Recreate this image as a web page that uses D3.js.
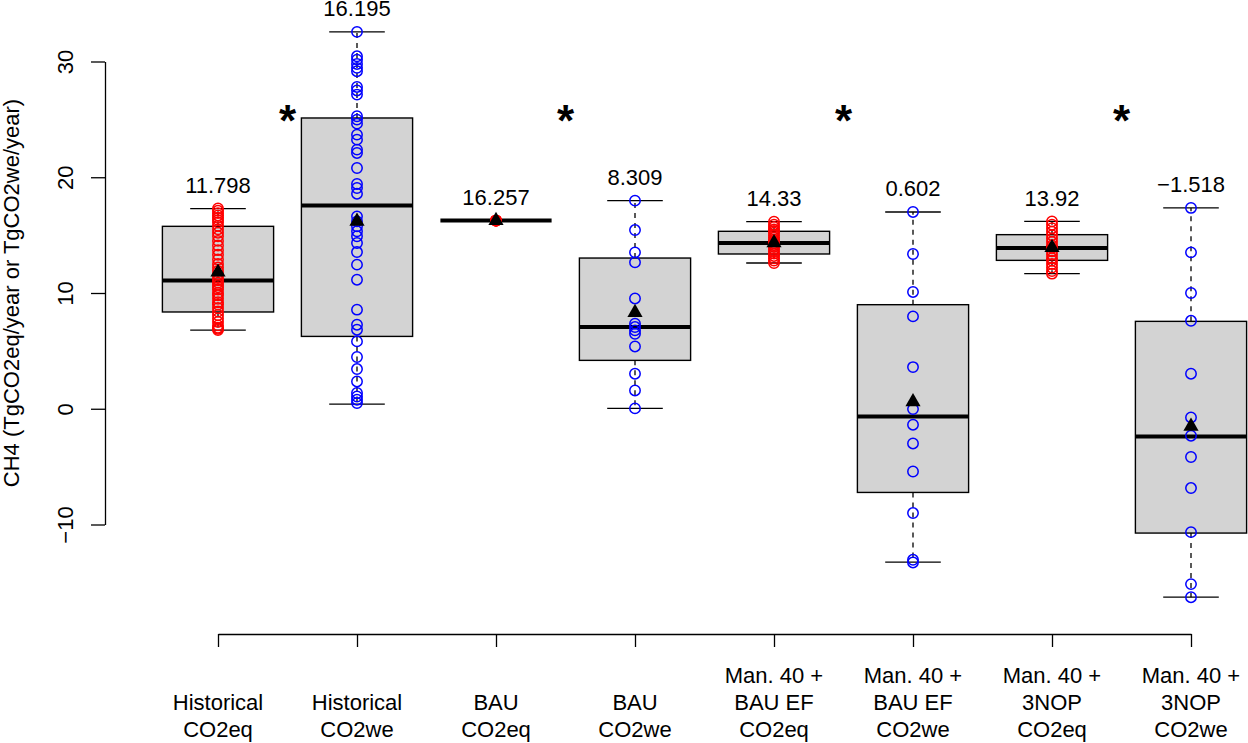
<!DOCTYPE html>
<html><head><meta charset="utf-8">
<script src="https://cdn.jsdelivr.net/npm/d3@7/dist/d3.min.js"></script>
<style>
body{margin:0;background:#fff}
svg{display:block}
text{font-family:"Liberation Sans",Arial,Helvetica,sans-serif;fill:#000}
</style>
</head><body>
<svg id="chart" width="1248" height="743"></svg>
<script>
// ---------- data ----------
const categories = [
  ["Historical", "CO2eq"],
  ["Historical", "CO2we"],
  ["BAU", "CO2eq"],
  ["BAU", "CO2we"],
  ["Man. 40 +", "BAU EF", "CO2eq"],
  ["Man. 40 +", "BAU EF", "CO2we"],
  ["Man. 40 +", "3NOP", "CO2eq"],
  ["Man. 40 +", "3NOP", "CO2we"]
];
const whiskerLow  = [6.80, 0.40, 16.257, 0.03, 12.59, -13.25, 11.67, -16.28];
const q1          = [8.36, 6.25, 16.257, 4.18, 13.37, -7.23, 12.82, -10.74];
const median      = [11.09, 17.55, 16.257, 7.06, 14.32, -0.66, 13.89, -2.39];
const q3          = [15.76, 25.12, 16.257, 13.02, 15.33, 8.99, 15.04, 7.55];
const whiskerHigh = [17.29, 32.56, 16.257, 17.98, 16.16, 17.00, 16.19, 17.35];
const means       = [11.798, 16.195, 16.257, 8.309, 14.33, 0.602, 13.92, -1.518];
const meanLabels  = ["11.798", "16.195", "16.257", "8.309", "14.33", "0.602", "13.92", "\u22121.518"];
const pointColors = ["red", "blue", "red", "blue", "red", "blue", "red", "blue"];

const histCO2eq = [6.8, 6.9, 7.0, 7.2, 7.5, 7.8, 8.1, 8.4, 8.7, 9.0, 9.2, 9.5, 9.8, 10.0, 10.3, 10.5, 10.7, 10.9, 11.1, 11.3,
  11.6, 11.9, 12.2, 12.5, 12.9, 13.3, 13.7, 14.1, 14.5, 14.9, 15.2, 15.5, 15.8, 16.1, 16.3, 16.5, 16.7, 16.9, 17.1, 17.3];
const histCO2we = [32.56, 30.45, 30.16, 29.79, 29.45, 29.16, 27.8, 27.5, 27.14, 25.27, 24.98, 24.63, 23.68, 23.25, 22.39, 22.1,
  20.8, 19.42, 19.07, 18.58, 16.62, 16.19, 15.76, 15.33, 14.9, 14.32, 13.54, 12.45, 11.15, 8.56, 7.26, 6.83, 5.82, 4.47,
  3.43, 2.36, 1.36, 1.06, 0.78, 0.49];
const bauCO2eq = [16.257, 16.257, 16.257, 16.257, 16.257];
const bauCO2we = [17.98, 15.44, 13.51, 12.65, 9.53, 7.35, 7.06, 6.77, 6.48, 5.38, 3.03, 1.58, 0.03];
const manBauCO2eq = [12.59, 12.8, 13.0, 13.2, 13.4, 13.6, 13.8, 14.0, 14.15, 14.3, 14.45, 14.6, 14.8, 15.0, 15.2, 15.35, 15.5, 15.7, 15.9, 16.16];
const manBauCO2we = [17.0, 13.37, 10.09, 7.98, 3.6, -0.03, -1.38, -3.0, -5.42, -9.01, -13.05, -13.28];
const man3nopCO2eq = [11.67, 11.9, 12.2, 12.5, 12.8, 13.0, 13.3, 13.6, 13.9, 14.1, 14.4, 14.7, 15.0, 15.3, 15.6, 15.9, 16.19];
const man3nopCO2we = [17.35, 13.51, 10.0, 7.6, 3.03, -0.75, -2.33, -4.17, -6.85, -10.66, -15.15, -16.28];
const groupPoints = [histCO2eq, histCO2we, bauCO2eq, bauCO2we, manBauCO2eq, manBauCO2we, man3nopCO2eq, man3nopCO2we];

const significance = [1.5, 3.5, 5.5, 7.5];
const yTicks = [-10, 0, 10, 20, 30];
const yTickLabels = ["\u221210", "0", "10", "20", "30"];
const yTitle = "CH4 (TgCO2eq/year or TgCO2we/year)";

// ---------- drawing ----------
const svg = d3.select("#chart");
const x = d3.scaleLinear().domain([1, 8]).range([218, 1191]);
const y = d3.scaleLinear().domain([-10, 30]).range([524.5, 61.5]);
const step = x(2) - x(1);
const boxHalf = step * 0.4;
const capHalf = boxHalf / 2;
const colorMap = {red: "#ff0000", blue: "#0000ff"};

// y axis
const yAxis = svg.append("g").attr("transform", "translate(105,0)")
  .call(d3.axisLeft(y).tickValues(yTicks).tickSize(14).tickSizeOuter(0)
    .tickFormat((d, i) => yTickLabels[i]));
yAxis.select(".domain").attr("stroke", "#000").attr("stroke-width", 1.3);
yAxis.selectAll(".tick line").attr("stroke", "#000").attr("stroke-width", 1.3);
yAxis.selectAll(".tick text")
  .attr("x", null).attr("dy", null)
  .attr("transform", "translate(-32,0) rotate(-90)")
  .attr("text-anchor", "middle")
  .style("font-family", "'Liberation Sans',Arial,sans-serif")
  .style("font-size", "22px").attr("fill", "#000");

svg.append("text")
  .attr("transform", "translate(19,293) rotate(-90)")
  .attr("text-anchor", "middle")
  .style("font-size", "22px")
  .text(yTitle);

// x axis
const xAxis = svg.append("g").attr("transform", "translate(0,634)")
  .call(d3.axisBottom(x).tickValues(d3.range(1, 9)).tickSize(13).tickSizeOuter(0).tickFormat(""));
xAxis.select(".domain").attr("stroke", "#000").attr("stroke-width", 1.3);
xAxis.selectAll(".tick line").attr("stroke", "#000").attr("stroke-width", 1.3);

const lineBaselines = [683, 710, 737];
categories.forEach((lines, i) => {
  const t = svg.append("text").attr("text-anchor", "middle").style("font-size", "22px");
  const offset = 3 - lines.length;
  lines.forEach((ln, j) => {
    t.append("tspan").attr("x", x(i + 1)).attr("y", lineBaselines[j + offset]).text(ln);
  });
});

// boxes
const groups = svg.append("g").selectAll("g").data(categories).join("g");
groups.each(function(_, i) {
  const g = d3.select(this);
  const cx = x(i + 1);
  // whiskers (dashed)
  g.append("line").attr("x1", cx).attr("x2", cx).attr("y1", y(q3[i])).attr("y2", y(whiskerHigh[i]))
    .attr("stroke", "#000").attr("stroke-width", 1.3).attr("stroke-dasharray", "5,5");
  g.append("line").attr("x1", cx).attr("x2", cx).attr("y1", y(q1[i])).attr("y2", y(whiskerLow[i]))
    .attr("stroke", "#000").attr("stroke-width", 1.3).attr("stroke-dasharray", "5,5");
  // caps
  [whiskerLow[i], whiskerHigh[i]].forEach(v => {
    g.append("line").attr("x1", cx - capHalf).attr("x2", cx + capHalf).attr("y1", y(v)).attr("y2", y(v))
      .attr("stroke", "#000").attr("stroke-width", 1.3);
  });
  // box
  g.append("rect").attr("x", cx - boxHalf).attr("width", 2 * boxHalf)
    .attr("y", y(q3[i])).attr("height", Math.max(0, y(q1[i]) - y(q3[i])))
    .attr("fill", "#d3d3d3").attr("stroke", "#000").attr("stroke-width", 1.4);
  // median
  g.append("line").attr("x1", cx - boxHalf).attr("x2", cx + boxHalf).attr("y1", y(median[i])).attr("y2", y(median[i]))
    .attr("stroke", "#000").attr("stroke-width", 4);
  // points
  g.selectAll("circle").data(groupPoints[i]).join("circle")
    .attr("cx", cx).attr("cy", d => y(d)).attr("r", 5.2)
    .attr("fill", "none").attr("stroke", colorMap[pointColors[i]]).attr("stroke-width", 1.5);
  // mean triangle
  g.append("path").attr("d", d3.symbol(d3.symbolTriangle, 100)())
    .attr("transform", `translate(${cx},${y(means[i])})`).attr("fill", "#000");
  // mean label
  g.append("text").attr("x", cx).attr("y", y(whiskerHigh[i]) - 15.5)
    .attr("text-anchor", "middle").style("font-size", "22px").text(meanLabels[i]);
});

// significance asterisks
svg.append("g").selectAll("text").data(significance).join("text")
  .attr("x", d => x(d)).attr("y", 136)
  .attr("text-anchor", "middle").style("font-size", "44px").style("font-weight", "bold")
  .text("*");
</script>
</body></html>
